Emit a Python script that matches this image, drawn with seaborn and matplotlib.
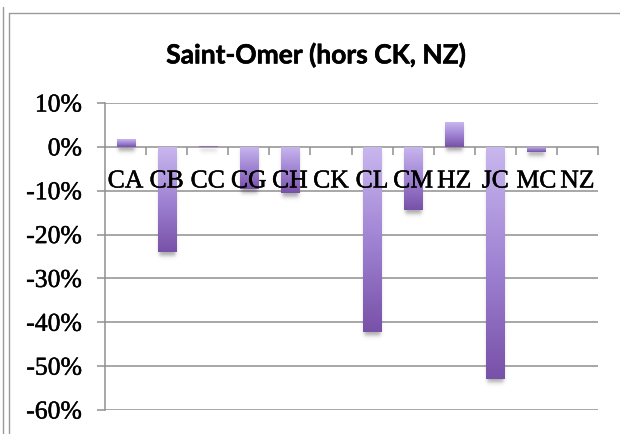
import numpy as np
import matplotlib
matplotlib.use("Agg")
import matplotlib.pyplot as plt
import seaborn as sns
from matplotlib.colors import LinearSegmentedColormap
from matplotlib.ticker import PercentFormatter, FixedLocator
from matplotlib.lines import Line2D
import matplotlib.patheffects as pe

# Variation by category
categories = ["CA", "CB", "CC", "CG", "CH", "CK", "CL", "CM", "HZ", "JC", "MC", "NZ"]
values = [0.018, -0.239, 0.003, -0.097, -0.105, 0.0, -0.423, -0.144, 0.056, -0.530, -0.012, 0.0]
y_ticks = [0.10, 0.0, -0.10, -0.20, -0.30, -0.40, -0.50, -0.60]
title = "Saint-Omer (hors CK, NZ)"

sns.set_theme(style="white")
plt.rcParams["axes.unicode_minus"] = False

W, H = 620, 434
fig = plt.figure(figsize=(W / 100, H / 100), dpi=100)
fig.patch.set_facecolor("white")

ax_l, ax_r, ax_t, ax_b = 105, 598, 103, 410
ax = fig.add_axes([ax_l / W, 1 - ax_b / H, (ax_r - ax_l) / W, (ax_b - ax_t) / H])
ax.set_facecolor("white")

sns.barplot(x=categories, y=values, width=0.44, color="#a080d0", ax=ax, zorder=1.6)

xlim = (-0.5, len(categories) - 0.5)
ylim = (-0.60, 0.10)
px_x = (xlim[1] - xlim[0]) / (ax_r - ax_l)
px_y = (ylim[1] - ylim[0]) / (ax_b - ax_t)

grid_col = "#8f8f8f"
for yv in y_ticks:
    if yv != 0:
        ax.axhline(yv, color=grid_col, lw=1.1, zorder=0.5)

# gradient fill and soft drop shadow for every bar
cmap = LinearSegmentedColormap.from_list("bars", ["#c9b7ee", "#a084d4", "#7851a8"])
grad = np.linspace(0, 1, 256).reshape(-1, 1)


def soft_box(t, a, b, s):
    return 0.5 * (np.tanh((t - a) / s) - np.tanh((t - b) / s))


for p in list(ax.patches):
    x0, w = p.get_x(), p.get_width()
    y0, h = p.get_y(), p.get_height()
    if abs(h) < 1e-9:
        p.set_visible(False)
        continue
    lo, hi = min(y0, y0 + h), max(y0, y0 + h)

    # shadow: bar shape shifted down a few pixels and blurred
    off = 4 * px_y
    sx, sy = 2.0 * px_x, 2.5 * px_y
    ex0, ex1 = x0 - 6 * px_x, x0 + w + 6 * px_x
    ey0, ey1 = lo - off - 10 * px_y, hi
    xs = np.linspace(ex0, ex1, 60)
    ys = np.linspace(ey1, ey0, 120)
    X, Y = np.meshgrid(xs, ys)
    a = 0.45 * soft_box(X, x0 + 1 * px_x, x0 + w - 1 * px_x, sx) * soft_box(Y, lo - off, hi - off, sy)
    rgba = np.zeros(X.shape + (4,))
    rgba[..., :3] = 0.25
    rgba[..., 3] = a
    ax.imshow(rgba, extent=[ex0, ex1, ey0, ey1], origin="upper", aspect="auto",
              zorder=1.3, interpolation="bilinear")

    im = ax.imshow(grad, cmap=cmap, extent=[x0, x0 + w, lo, hi], origin="upper",
                   aspect="auto", zorder=1.6, interpolation="bilinear")
    im.set_clip_path(p)
    p.set_facecolor("none")
    p.set_edgecolor("none")

ax.set_xlim(*xlim)
ax.set_ylim(*ylim)
ax.set_xlabel("")
ax.set_ylabel("")
ax.set_axisbelow(False)

# axes lines and ticks
for side in ("top", "right"):
    ax.spines[side].set_visible(False)
ax.spines["bottom"].set_position(("data", 0))
for side in ("left", "bottom"):
    ax.spines[side].set_color(grid_col)
    ax.spines[side].set_linewidth(1.1)
    ax.spines[side].set_zorder(1.4)

ax.yaxis.set_major_locator(FixedLocator(y_ticks))
ax.yaxis.set_major_formatter(PercentFormatter(1.0, decimals=0))
ax.tick_params(axis="y", which="major", direction="out", length=5.5, width=1.1,
               color=grid_col, pad=11, left=True)
ax.set_xticks(range(len(categories)))
ax.set_xticklabels(categories)
ax.set_xticks([i + 0.5 for i in range(len(categories))], minor=True)
ax.tick_params(axis="x", which="major", length=0, pad=17, bottom=True)
ax.tick_params(axis="x", which="minor", direction="out", length=5.5, width=1.1,
               color=grid_col, bottom=True)

heavier = [pe.withStroke(linewidth=0.35, foreground="black")]
for lab in ax.get_xticklabels() + ax.get_yticklabels():
    lab.set_fontfamily("Liberation Serif")
    lab.set_fontsize(18.5)
    lab.set_color("black")
    lab.set_path_effects(heavier)

fig.text(316 / W, 1 - 55 / H, title, ha="center", va="center",
         fontfamily="Lato", fontweight="bold", fontsize=19, color="black",
         path_effects=[pe.withStroke(linewidth=0.4, foreground="black")])

# chart frame
frame_col = "#9a9a9a"


def fline(xa, ya, xb, yb):
    fig.add_artist(Line2D([xa / W, xb / W], [1 - ya / H, 1 - yb / H],
                          transform=fig.transFigure, color=frame_col, lw=1.0))


fline(2.5, 7, 2.5, H)
fline(8.5, 13, 8.5, H)
fline(8.5, 13, W, 13)

fig.savefig("out.png", dpi=100, facecolor="white")
